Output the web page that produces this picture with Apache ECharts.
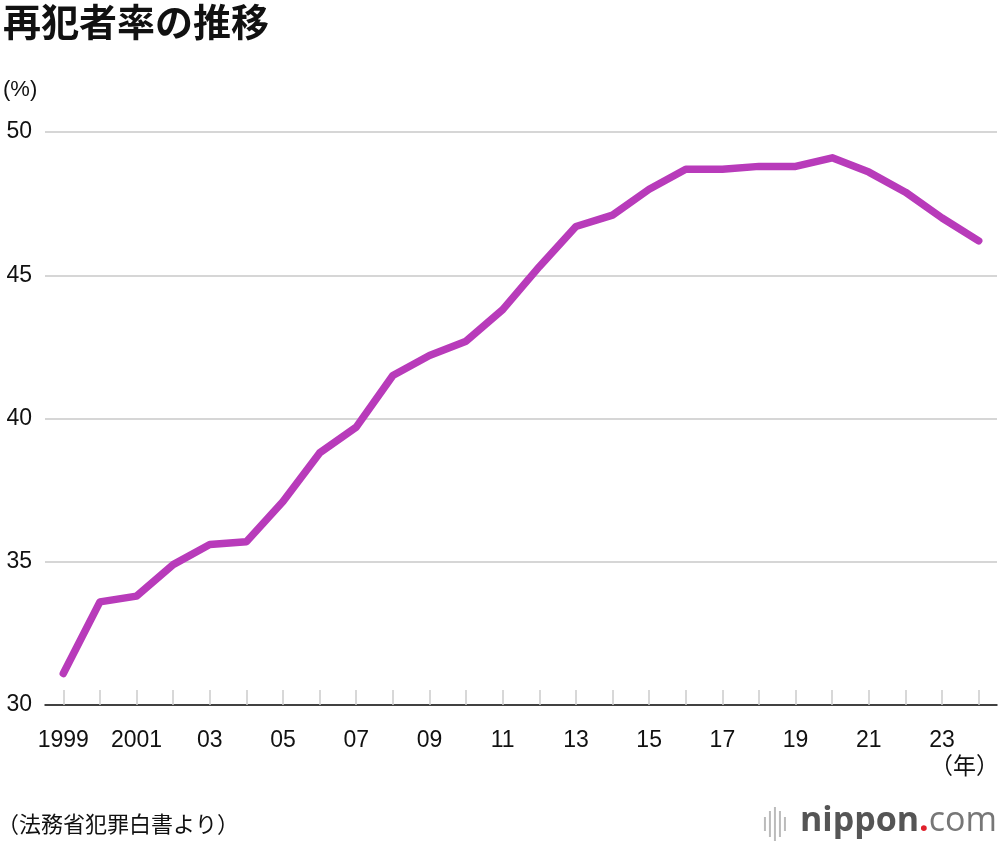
<!DOCTYPE html>
<html><head><meta charset="utf-8">
<script src="https://cdn.jsdelivr.net/npm/echarts@6/dist/echarts.min.js"></script>
<style>html,body{margin:0;padding:0;background:#fff}#c{width:1000px;height:844px}</style>
</head><body><div id="c"></div>
<script>
const years = ['1999','2000','2001','2002','2003','2004','2005','2006','2007','2008','2009','2010','2011','2012','2013','2014','2015','2016','2017','2018','2019','2020','2021','2022','2023','2024'];
const yearLabels = ['1999','','2001','','03','','05','','07','','09','','11','','13','','15','','17','','19','','21','','23',''];
const rate = [31.1,33.6,33.8,34.9,35.6,35.7,37.1,38.8,39.7,41.5,42.2,42.7,43.8,45.3,46.7,47.1,48.0,48.7,48.7,48.8,48.8,49.1,48.6,47.9,47.0,46.2];
const yTicks = [30,35,40,45,50];

const chart = echarts.init(document.getElementById('c'), null, {renderer:'canvas'});
const numFont = '"Liberation Sans", Arial, sans-serif';
const jpFont = '"Noto Sans CJK JP", sans-serif';
chart.setOption({
  animation:false,
  backgroundColor:'#fff',
  title:{text:'再犯者率の推移', left:-2, top:-2, textStyle:{fontFamily:jpFont, fontSize:38, fontWeight:'bold', color:'#111'}},
  grid:{left:45, right:3, top:132, bottom:139, containLabel:false},
  xAxis:{type:'category', data:years, boundaryGap:true,
    axisLine:{lineStyle:{color:'#111', width:1.5}},
    axisTick:{show:true, inside:true, alignWithLabel:true, interval:0, length:15, lineStyle:{color:'#ccc', width:1.5}},
    axisLabel:{interval:0, margin:24, fontFamily:numFont, fontSize:23, color:'#111',
      formatter:(v,i)=>yearLabels[i]}
  },
  yAxis:{type:'value', min:yTicks[0], max:yTicks[yTicks.length-1], interval:5,
    axisLine:{show:false}, axisTick:{show:false},
    splitLine:{lineStyle:{color:'#c8c8c8', width:1.5}},
    axisLabel:{margin:13, fontFamily:numFont, fontSize:23, color:'#111'}
  },
  series:[{type:'line', data:rate, symbol:'none', lineStyle:{color:'#b83bba', width:7.5, cap:'round', join:'round'}}],
  graphic:[
    {type:'text', left:3, top:79, style:{text:'(%)', font:'22px '+numFont, fill:'#111'}},
    {type:'text', right:1, top:754, style:{text:'（年）', font:'23px '+jpFont, fill:'#111'}},
    {type:'text', left:-3, top:813, style:{text:'（法務省犯罪白書より）', font:'22px '+jpFont, fill:'#111'}},
    {type:'group', right:3, top:804, children:[
      {type:'rect', shape:{x:0,y:12,width:2,height:14}, style:{fill:'#bbb'}},
      {type:'rect', shape:{x:5,y:6,width:2,height:26}, style:{fill:'#bbb'}},
      {type:'rect', shape:{x:10,y:2,width:2,height:34}, style:{fill:'#bbb'}},
      {type:'rect', shape:{x:15,y:6,width:2,height:26}, style:{fill:'#bbb'}},
      {type:'rect', shape:{x:20,y:12,width:2,height:14}, style:{fill:'#bbb'}},
      {type:'text', x:36, y:-1, style:{rich:{a:{fontFamily:'"Open Sans", sans-serif', fontSize:34, fontWeight:'bold', fill:'#555'},b:{fontFamily:'"Open Sans", sans-serif', fontSize:34, fontWeight:'bold', fill:'#e0202b'},c:{fontFamily:'"Open Sans", sans-serif', fontSize:34, fill:'#777'}}, text:'{a|nippon}{b|.}{c|com}'}}
    ]}
  ]
});
</script></body></html>
